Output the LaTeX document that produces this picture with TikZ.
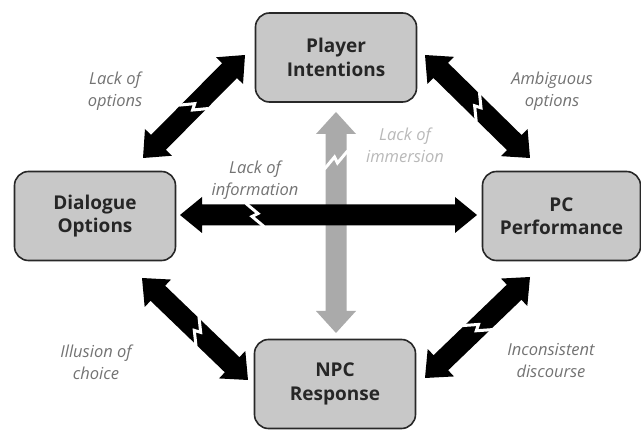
\documentclass[tikz,border=0pt]{standalone}
\usepackage{fontspec}
\setmainfont{Open Sans}
\usetikzlibrary{calc}
\definecolor{boxfill}{RGB}{200,200,200}
\definecolor{boxline}{RGB}{40,40,40}
\definecolor{labelgray}{RGB}{115,115,115}
\definecolor{lightlabel}{RGB}{185,185,185}
\definecolor{arrowgray}{RGB}{170,170,170}
\tikzset{
  statebox/.style={draw=boxline, fill=boxfill, line width=1.6pt, rounded corners=14pt,
    minimum width=161pt, minimum height=89pt, align=center, text=black!85,
    font=\fontsize{19}{23.5}\selectfont\bfseries},
  issue/.style={align=center, text=labelgray, font=\fontsize{16.5}{22}\selectfont\itshape},
}
% fat double-headed arrow with a lightning break
\newcommand\fatarrow[6]{% #1 from, #2 to, #3 colour, #4 break distance, #5 half shaft, #6 half head
  \pgfpointdiff{\pgfpointanchor{#1}{center}}{\pgfpointanchor{#2}{center}}%
  \pgfgetlastxy{\fadx}{\fady}%
  \pgfmathsetmacro\faang{atan2(\fady,\fadx)}%
  \pgfmathsetmacro\falen{veclen(\fadx,\fady)}%
  \pgfmathsetmacro\faend{\falen-22}%
  \begin{scope}[shift={(#1)}, rotate=\faang]
    \fill[#3] (0pt,0pt) -- (22pt,#6pt) -- (22pt,#5pt) -- (\faend pt,#5pt) -- (\faend pt,#6pt)
      -- (\falen pt,0pt) -- (\faend pt,-#6pt) -- (\faend pt,-#5pt) -- (22pt,-#5pt) -- (22pt,-#6pt) -- cycle;
    \draw[white, line width=3pt] (#4pt-9pt, #5pt+1pt) -- (#4pt+3pt, 1.5pt) -- (#4pt-3pt,-1.5pt) -- (#4pt+9pt, -#5pt-1pt);
  \end{scope}}
\begin{document}
\begin{tikzpicture}[x=1pt,y=-1pt]
\useasboundingbox (0,0) rectangle (641,430);
\fill[white] (0,0) rectangle (641,430);

\node[statebox] (pi) at (336,57.5) {Player\\Intentions};
\node[statebox] (do) at (95,216) {Dialogue\\Options};
\node[statebox, minimum width=158pt] (pc) at (561.5,216) {PC\\Performance};
\node[statebox] (npc) at (335,384) {NPC\\Response};

% arrow end points
\coordinate (vb) at (336,333);
\coordinate (vt) at (336,112);
\coordinate (hl) at (180,215);
\coordinate (hr) at (477,215);
\coordinate (a1) at (143,158);
\coordinate (a2) at (245,55);
\coordinate (b1) at (425,55);
\coordinate (b2) at (530,158);
\coordinate (c1) at (142,278);
\coordinate (c2) at (248,380);
\coordinate (d1) at (530,277);
\coordinate (d2) at (425,378);

\fatarrow{vb}{vt}{arrowgray}{173}{10.5}{20}
\fatarrow{hl}{hr}{black}{75}{10.5}{18}
\fatarrow{a1}{a2}{black}{72}{10.5}{19}
\fatarrow{b1}{b2}{black}{74}{10.5}{19}
\fatarrow{c1}{c2}{black}{77}{10.5}{19}
\fatarrow{d1}{d2}{black}{73}{10.5}{19}

\node[issue] (l1) at (115,91) {Lack of\\options};
\node[issue] (l2) at (552,91) {Ambiguous\\options};
\node[issue] (l3) at (255,180) {Lack of\\information};
\node[issue, text=lightlabel] (l4) at (405,145) {Lack of\\immersion};
\node[issue] (l5) at (96,362) {Illusion of\\choice};
\node[issue] (l6) at (551,361) {Inconsistent\\discourse};
\end{tikzpicture}
\end{document}
